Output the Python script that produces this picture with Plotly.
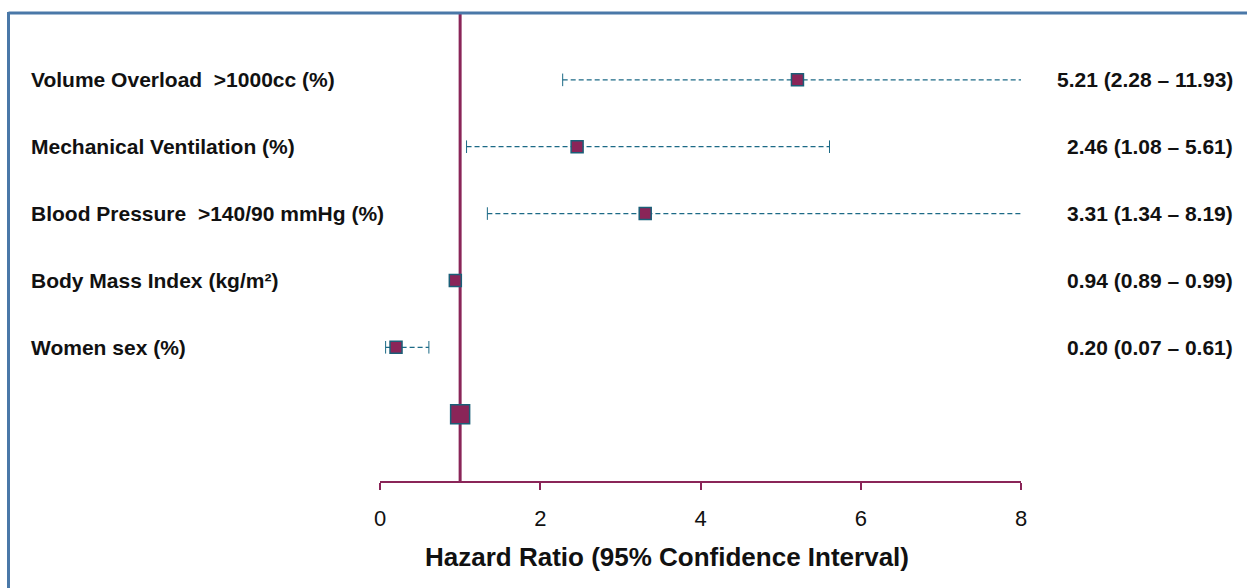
import plotly.graph_objects as go

labels = ["Volume Overload  >1000cc (%)", "Mechanical Ventilation (%)",
          "Blood Pressure  >140/90 mmHg (%)", "Body Mass Index (kg/m²)", "Women sex (%)"]
hr = [5.21, 2.46, 3.31, 0.94, 0.20]
lower = [2.28, 1.08, 1.34, 0.89, 0.07]
upper = [11.93, 5.61, 8.19, 0.99, 0.61]
rows = [5, 4, 3, 2, 1]
ref_hr = 1.0
ref_row = 0
tickvals = [0, 2, 4, 6, 8]
x_title = "Hazard Ratio (95% Confidence Interval)"

MAROON = "#8A2558"
TEAL = "#1C6A86"
FRAME = "#4A78A8"

W, H = 1247, 588
L, R, T, B = 380, 226, 13, 107
pw, ph = W - L - R, H - T - B

def px2paper_x(px):
    return (px - L) / pw

def py2paper_y(py):
    return 1 - (py - T) / ph

fig = go.Figure()

# CI dashed lines
for r, lo, hi in zip(rows, lower, upper):
    fig.add_trace(go.Scatter(x=[lo, hi], y=[r, r], mode="lines",
                             line=dict(color=TEAL, width=1.2, dash="5px,3px"),
                             hoverinfo="skip", showlegend=False))
# caps
fig.add_trace(go.Scatter(x=lower + upper, y=rows + rows, mode="markers",
                         marker=dict(symbol="line-ns", size=9,
                                     line=dict(color=TEAL, width=1)),
                         hoverinfo="skip", showlegend=False))
# point estimates
fig.add_trace(go.Scatter(x=hr, y=rows, mode="markers",
                         marker=dict(symbol="square", size=12, color=MAROON,
                                     line=dict(color="#1B5F78", width=1.5)),
                         showlegend=False))
# reference marker
fig.add_trace(go.Scatter(x=[ref_hr], y=[ref_row], mode="markers",
                         marker=dict(symbol="square", size=19, color=MAROON,
                                     line=dict(color="#1B5F78", width=1.5)),
                         showlegend=False))

# reference vertical line
fig.add_shape(type="line", xref="x", yref="paper", x0=ref_hr, x1=ref_hr, y0=0, y1=1,
              line=dict(color=MAROON, width=3), layer="below")

# frame
fig.add_shape(type="line", xref="paper", yref="paper",
              x0=px2paper_x(8.5), x1=px2paper_x(W + 5), y0=py2paper_y(13), y1=py2paper_y(13),
              line=dict(color=FRAME, width=3))
fig.add_shape(type="line", xref="paper", yref="paper",
              x0=px2paper_x(8.5), x1=px2paper_x(8.5), y0=py2paper_y(12), y1=py2paper_y(H + 5),
              line=dict(color=FRAME, width=3))

font_b = dict(family="Liberation Sans, Arial, sans-serif", size=21, color="#111111")
for r, lab, h, lo, hi in zip(rows, labels, hr, lower, upper):
    fig.add_annotation(x=px2paper_x(29), xref="paper", y=r, yref="y", text=f"<b>{lab}</b>",
                       showarrow=False, xanchor="left", yanchor="middle", font=font_b)
    fig.add_annotation(x=px2paper_x(1235), xref="paper", y=r, yref="y",
                       text=f"<b>{h:.2f} ({lo:.2f} – {hi:.2f})</b>",
                       showarrow=False, xanchor="right", yanchor="middle", font=font_b)

# axis title
fig.add_annotation(x=px2paper_x(667), xref="paper", y=py2paper_y(557), yref="paper",
                   text=f"<b>{x_title}</b>", showarrow=False, xanchor="center", yanchor="middle",
                   font=dict(family="Liberation Sans, Arial, sans-serif", size=26, color="#111111"))

fig.update_layout(
    width=W, height=H,
    margin=dict(l=L, r=R, t=T, b=B),
    paper_bgcolor="white", plot_bgcolor="white",
    xaxis=dict(range=[0, 8], tickvals=tickvals, showgrid=False, zeroline=False,
               showline=True, linecolor=MAROON, linewidth=2,
               ticks="outside", ticklen=7, tickwidth=2, tickcolor=MAROON,
               ticklabelstandoff=10,
               tickfont=dict(family="Liberation Sans Narrow, Arial Narrow, Liberation Sans", size=22, color="#111111")),
    yaxis=dict(range=[-1, 6], visible=False),
)

fig.write_html("out.html", config={"displayModeBar": False},
               post_script="document.body.style.margin='0';")
